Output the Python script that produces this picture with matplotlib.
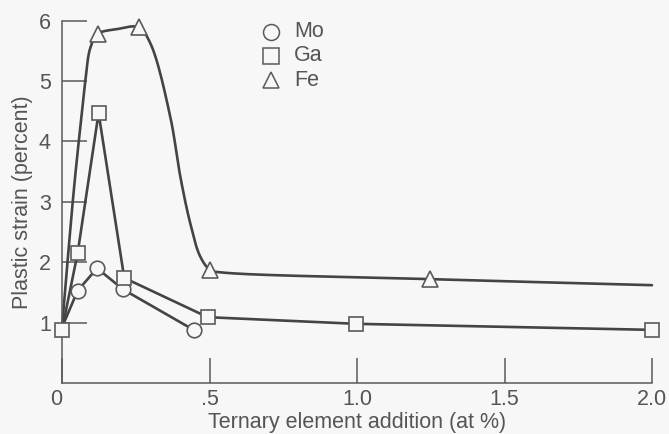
import numpy as np
import matplotlib
matplotlib.use("Agg")
import matplotlib.pyplot as plt
from matplotlib.transforms import ScaledTranslation

# ---- data ----
mo_x = [0.0, 0.053, 0.119, 0.207, 0.446]
mo_y = [0.92, 1.53, 1.90, 1.55, 0.88]

ga_x = [0.0, 0.053, 0.124, 0.211, 0.494, 0.998, 2.0]
ga_y = [0.88, 2.15, 4.47, 1.74, 1.09, 0.98, 0.88]

fe_x = [0.121, 0.26, 0.503, 1.248]
fe_y = [5.78, 5.89, 1.87, 1.72]

# traced path of the hand-drawn Fe curve
fe_curve_x = [0.0, 0.039, 0.062, 0.079, 0.096, 0.121, 0.186, 0.26, 0.30,
              0.367, 0.401, 0.435, 0.469, 0.503, 0.545, 1.248, 2.0]
fe_curve_y = [0.92, 3.14, 4.24, 5.00, 5.55, 5.78, 5.86, 5.89, 5.62,
              4.41, 3.42, 2.64, 2.09, 1.87, 1.83, 1.72, 1.62]

x_ticks = [0.0, 0.5, 1.0, 1.5, 2.0]
x_tick_labels = ["0", ".5", "1.0", "1.5", "2.0"]
y_ticks = [1, 2, 3, 4, 5, 6]
y_tick_labels = ["1", "2", "3", "4", "5", "6"]

legend_labels = ["Mo", "Ga", "Fe"]


def catmull_rom(xs, ys, sx=295.0, sy=60.4, n=30, alpha=0.5):
    P = np.column_stack([np.asarray(xs) * sx, np.asarray(ys) * sy])
    P = np.vstack([2 * P[0] - P[1], P, 2 * P[-1] - P[-2]])
    out = []
    for i in range(1, len(P) - 2):
        p0, p1, p2, p3 = P[i - 1], P[i], P[i + 1], P[i + 2]
        t0 = 0.0
        t1 = t0 + np.linalg.norm(p1 - p0) ** alpha + 1e-9
        t2 = t1 + np.linalg.norm(p2 - p1) ** alpha + 1e-9
        t3 = t2 + np.linalg.norm(p3 - p2) ** alpha + 1e-9
        t = np.linspace(t1, t2, n)[:, None]
        A1 = (t1 - t) / (t1 - t0) * p0 + (t - t0) / (t1 - t0) * p1
        A2 = (t2 - t) / (t2 - t1) * p1 + (t - t1) / (t2 - t1) * p2
        A3 = (t3 - t) / (t3 - t2) * p2 + (t - t2) / (t3 - t2) * p3
        B1 = (t2 - t) / (t2 - t0) * A1 + (t - t0) / (t2 - t0) * A2
        B2 = (t3 - t) / (t3 - t1) * A2 + (t - t1) / (t3 - t1) * A3
        C = (t2 - t) / (t2 - t1) * B1 + (t - t1) / (t2 - t1) * B2
        out.append(C)
    C = np.vstack(out)
    return C[:, 0] / sx, C[:, 1] / sy


BG = "#f7f7f7"
LINE = "#444444"
AX = "#5a5a5a"
TXT = "#555555"
FS = 15.5

plt.rcParams["font.family"] = ["Liberation Sans", "DejaVu Sans"]

fig = plt.figure(figsize=(6.69, 4.34), dpi=100, facecolor=BG)
ax = fig.add_axes([62 / 669, 1 - 383 / 434, (652 - 62) / 669, (383 - 20.7) / 434])
ax.set_facecolor(BG)

lw = 1.9
mk = dict(markerfacecolor=BG, markeredgecolor=AX, markeredgewidth=1.2, clip_on=False)

# Fe smooth curve
cx, cy = catmull_rom(fe_curve_x, fe_curve_y)
ax.plot(cx, cy, color=LINE, lw=lw, zorder=2, clip_on=False, solid_capstyle="round")
ax.plot(fe_x, fe_y, ls="none", marker="^", markersize=11, zorder=4, **mk)

# Ga
ax.plot(ga_x, ga_y, color=LINE, lw=lw, zorder=2, clip_on=False)
ax.plot(ga_x, ga_y, ls="none", marker="s", markersize=10.5, zorder=5, **mk)

# Mo
ax.plot(mo_x, mo_y, color=LINE, lw=lw, zorder=2, clip_on=False)
ax.plot(mo_x[1:], mo_y[1:], ls="none", marker="o", markersize=10.5, zorder=4, **mk)

ax.set_xlim(0, 2.0)
ax.set_ylim(0, 6)

for s in ["top", "right"]:
    ax.spines[s].set_visible(False)
for s in ["left", "bottom"]:
    ax.spines[s].set_color(AX)
    ax.spines[s].set_linewidth(1.1)

ax.set_xticks(x_ticks)
ax.set_xticklabels(x_tick_labels)
ax.set_yticks(y_ticks)
ax.set_yticklabels(y_tick_labels)
ax.tick_params(axis="both", direction="in", length=18, width=1.1, color=AX,
               labelcolor=TXT, labelsize=FS)
ax.tick_params(axis="x", pad=4)
ax.tick_params(axis="y", pad=8)
lab0 = ax.get_xticklabels()[0]
lab0.set_transform(lab0.get_transform() + ScaledTranslation(-6 / 100, 0, fig.dpi_scale_trans))

ax.set_xlabel("Ternary element addition (at %)", fontsize=FS, color=TXT, labelpad=1.5)
ax.set_ylabel("Plastic strain (percent)", fontsize=FS, color=TXT, labelpad=4)

# legend (marker + label), placed as in the figure
leg_markers = ["o", "s", "^"]
leg_y_px = [31.7, 55.5, 80.0]
for m, lbl, ypx in zip(leg_markers, legend_labels, leg_y_px):
    fy = 1 - ypx / 434
    fig.lines.append(plt.Line2D([270.7 / 669], [fy], transform=fig.transFigure,
                                marker=m, markersize=11.5 if m != "^" else 12,
                                markerfacecolor=BG, markeredgecolor=AX,
                                markeredgewidth=1.1, ls="none"))
    fig.text(294 / 669, fy, lbl, fontsize=FS, color=TXT, va="center", ha="left")

fig.savefig("out.png", dpi=100, facecolor=BG)
